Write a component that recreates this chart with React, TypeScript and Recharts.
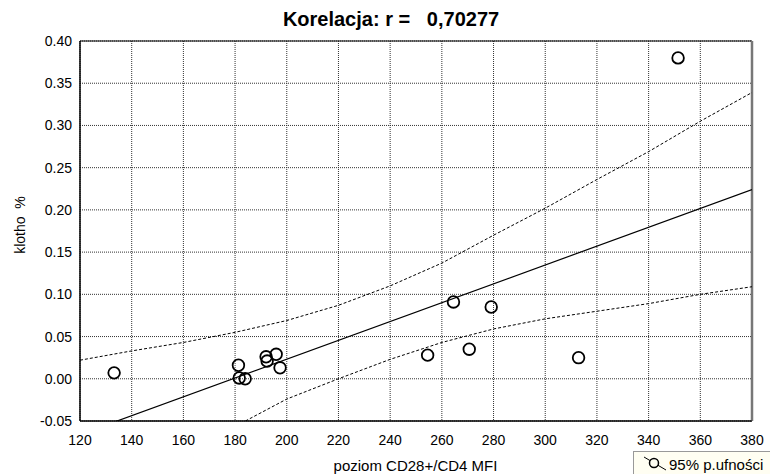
import React from 'react';
import { ComposedChart, Scatter, Line, XAxis, YAxis, CartesianGrid, ReferenceArea, ReferenceLine } from 'recharts';

// measured points (poziom CD28+/CD4 MFI vs klotho %)
const cd28 = [133.2, 181.3, 181.6, 183.9, 192.0, 192.4, 195.9, 197.4, 254.5, 264.5, 270.6, 279.1, 312.9, 351.4];
const klotho = [0.007, 0.016, 0.001, 0.0, 0.026, 0.021, 0.029, 0.013, 0.028, 0.091, 0.035, 0.085, 0.025, 0.38];

// regression line ends
const fitX = [120, 380];
const fitY = [-0.066, 0.224];

// 95% confidence band
const upperX = [120, 140, 160, 180, 200, 220, 240, 260, 280, 300, 320, 340, 360, 380];
const upperY = [0.022, 0.033, 0.043, 0.055, 0.069, 0.087, 0.11, 0.137, 0.17, 0.202, 0.236, 0.269, 0.305, 0.339];
const lowerX = [184, 200, 220, 240, 260, 280, 300, 320, 340, 360, 380];
const lowerY = [-0.05, -0.024, 0.0, 0.023, 0.043, 0.059, 0.071, 0.08, 0.089, 0.1, 0.109];

const xTicks = [120, 140, 160, 180, 200, 220, 240, 260, 280, 300, 320, 340, 360, 380];
const yTicks = [-0.05, 0, 0.05, 0.1, 0.15, 0.2, 0.25, 0.3, 0.35, 0.4];

const points = cd28.map((x, i) => ({ x, y: klotho[i] }));
const fit = fitX.map((x, i) => ({ x, y: fitY[i] }));
const upper = upperX.map((x, i) => ({ x, y: upperY[i] }));
const lower = lowerX.map((x, i) => ({ x, y: lowerY[i] }));

const font = '"Liberation Sans", Arial, Helvetica, sans-serif';

const Ring = (props: any) => (
    <circle cx={props.cx} cy={props.cy} r={5.8} fill="none" stroke="#000" strokeWidth={1.8} />
);

export default function App() {
    return (
        <div style={{ position: 'absolute', left: 0, top: 0, width: 770, height: 474, background: '#fff', fontFamily: font }}>
            <ComposedChart width={770} height={474} margin={{ top: 41, right: 18, left: 0, bottom: 0 }}>
                <CartesianGrid stroke="#333" strokeDasharray="1 1" />
                <XAxis
                    type="number"
                    dataKey="x"
                    domain={[120, 380]}
                    ticks={xTicks}
                    allowDataOverflow
                    height={53}
                    tickLine={false}
                    tickMargin={8}
                    axisLine={{ stroke: '#000' }}
                    tick={{ fontSize: 14, fill: '#000', fontFamily: font }}
                />
                <YAxis
                    type="number"
                    dataKey="y"
                    domain={[-0.05, 0.4]}
                    ticks={yTicks}
                    allowDataOverflow
                    width={80}
                    tickLine={false}
                    axisLine={{ stroke: '#000' }}
                    tickFormatter={(v: number) => v.toFixed(2)}
                    tick={{ fontSize: 14, fill: '#000', fontFamily: font }}
                />
                <ReferenceArea x1={120} x2={380} y1={-0.05} y2={0.4} fill="none" stroke="#000" strokeWidth={1} />
                <ReferenceLine x={380} stroke="#777" strokeWidth={2.5} />
                <Line data={upper} dataKey="y" type="linear" stroke="#000" strokeWidth={1} strokeDasharray="3 2" dot={false} isAnimationActive={false} />
                <Line data={lower} dataKey="y" type="linear" stroke="#000" strokeWidth={1} strokeDasharray="3 2" dot={false} isAnimationActive={false} />
                <Line data={fit} dataKey="y" type="linear" stroke="#000" strokeWidth={1.2} dot={false} isAnimationActive={false} />
                <Scatter data={points} dataKey="y" shape={Ring} isAnimationActive={false} />
            </ComposedChart>
            <svg width={770} height={474} style={{ position: 'absolute', left: 0, top: 0, pointerEvents: 'none' }}>
                <text x={391} y={26} textAnchor="middle" fontSize={20} fontWeight="bold" fontFamily={font} style={{ whiteSpace: 'pre' }}>
                    {'Korelacja: r =   0,70277'}
                </text>
                <text x={415.5} y={471} textAnchor="middle" fontSize={15} fontFamily={font}>
                    poziom CD28+/CD4 MFI
                </text>
                <text transform="translate(25,225) rotate(-90)" textAnchor="middle" fontSize={14} fontFamily={font} style={{ whiteSpace: 'pre' }}>
                    {'klotho  %'}
                </text>
                <rect x={633.5} y={451.5} width={140} height={30} fill="#fffef2" stroke="#999" />
                <line x1={644} y1={457} x2={666} y2={470} stroke="#000" strokeWidth={1} />
                <circle cx={654} cy={463} r={4.5} fill="#fffef2" stroke="#000" strokeWidth={1.5} />
                <text x={669} y={469.5} fontSize={15} fontFamily={font}>95% p.ufności</text>
            </svg>
        </div>
    );
}
